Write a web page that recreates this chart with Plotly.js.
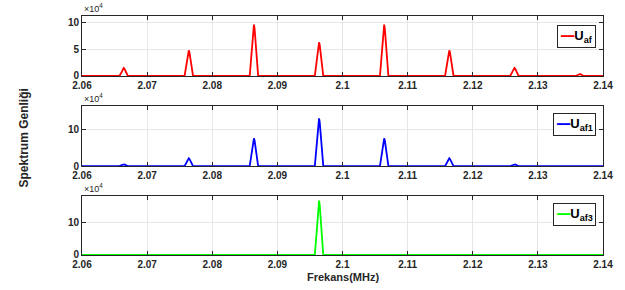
<!DOCTYPE html>
<html><head><meta charset="utf-8">
<script src="https://cdn.plot.ly/plotly-3.0.1.min.js"></script>
<style>html,body{margin:0;padding:0;background:#fff}#chart{width:625px;height:290px}</style>
</head><body><div id="chart"></div>
<script>
// Peak centres (MHz)
const peakCenters = [2.0664, 2.0764, 2.0864, 2.0964, 2.1064, 2.1164, 2.1264, 2.1364];
// Peak heights for each signal
const uafPeaks  = [15000, 48000, 96000, 63000, 96000, 48000, 15000, 4000];
const uaf1Peaks = [5000, 21000, 75000, 129000, 75000, 21000, 5000, 1000];
const uaf3Peaks = [0, 0, 0, 166000, 0, 0, 0, 0];
// Narrow peak profile (relative frequency offsets and relative amplitudes)
const profileOffsets = [-0.00065, -0.0003, -0.0001, 0, 0.0001, 0.0003, 0.00065];
const profileRatios  = [0, 0.52, 0.92, 1, 0.92, 0.52, 0];
const xTickVals = [2.06, 2.07, 2.08, 2.09, 2.10, 2.11, 2.12, 2.13, 2.14];
const xTickText = ['2.06','2.07','2.08','2.09','2.1','2.11','2.12','2.13','2.14'];
const seriesNames = ['U<sub>af</sub>', 'U<sub>af1</sub>', 'U<sub>af3</sub>'];
const seriesColors = ['#ff0000', '#0000ff', '#00ff00'];

function buildSpectrum(peaks) {
  const xs = [2.06], ys = [0];
  peakCenters.forEach((c, i) => {
    profileOffsets.forEach((o, j) => { xs.push(c + o); ys.push(peaks[i] * profileRatios[j]); });
  });
  xs.push(2.14); ys.push(0);
  return {xs, ys};
}

const allPeaks = [uafPeaks, uaf1Peaks, uaf3Peaks];
const traces = allPeaks.map((p, k) => {
  const s = buildSpectrum(p);
  return {
    x: s.xs, y: s.ys, type: 'scatter', mode: 'lines',
    name: seriesNames[k],
    line: {color: seriesColors[k], width: 1.8},
    xaxis: k === 0 ? 'x' : 'x' + (k + 1),
    yaxis: k === 0 ? 'y' : 'y' + (k + 1)
  };
});

const axColor = '#262626';
const fam = 'Arial, Liberation Sans, sans-serif';
const tickFont = {family: fam, size: 10, color: axColor, weight: 'bold'};
function xAx(anchor) {
  return {
    anchor: anchor, range: [2.06, 2.14], tickvals: xTickVals, ticktext: xTickText,
    showline: true, linecolor: axColor, linewidth: 1, mirror: 'ticks',
    ticks: 'inside', ticklen: 4, tickcolor: axColor,
    showgrid: true, gridcolor: '#e6e6e6', zeroline: false, tickfont: tickFont
  };
}
function yAx(anchor, domain, range, vals, txt) {
  return {
    anchor: anchor, domain: domain, range: range, tickvals: vals, ticktext: txt,
    showline: true, linecolor: axColor, linewidth: 1, mirror: 'ticks',
    ticks: 'inside', ticklen: 4, tickcolor: axColor,
    showgrid: true, gridcolor: '#e6e6e6', zeroline: false, tickfont: tickFont
  };
}
const d1 = [0.749, 1], d2 = [0.372, 0.623], d3 = [0, 0.247];
const ann = [d1, d2, d3].map(d => ({
  xref: 'paper', yref: 'paper', x: 0, y: d[1], xanchor: 'left', yanchor: 'bottom',
  text: '×10<sup>4</sup>', showarrow: false,
  font: {family: fam, size: 9, color: axColor}
}));
// legend boxes
const legendTops = [0.9636, 0.594, 0.2176];
legendTops.forEach((yTop, k) => {
  ann.push({
    xref: 'paper', yref: 'paper', x: 0.9866, y: yTop, xanchor: 'right', yanchor: 'top',
    text: '<span style="color:' + seriesColors[k] + ';font-family:DejaVu Sans;font-size:11px">━━</span>' + seriesNames[k],
    showarrow: false, bgcolor: '#ffffff', bordercolor: axColor, borderwidth: 1, borderpad: 2,
    font: {family: fam, size: 13, color: '#000', weight: 'bold'}
  });
});
ann.push({
  xref: 'paper', yref: 'paper', x: -0.112, y: 0.49, xanchor: 'center', yanchor: 'middle',
  text: 'Spektrum Genliği', textangle: -90, showarrow: false,
  font: {family: fam, size: 12, color: axColor, weight: 'bold'}
});
ann.push({
  xref: 'paper', yref: 'paper', x: 0.5, y: -0.092, xanchor: 'center', yanchor: 'middle',
  text: 'Frekans(MHz)', showarrow: false,
  font: {family: fam, size: 11, color: axColor, weight: 'bold'}
});

const layout = {
  width: 625, height: 290,
  margin: {l: 82, r: 22, t: 16, b: 35},
  paper_bgcolor: '#fff', plot_bgcolor: '#fff',
  showlegend: false,
  xaxis: xAx('y'), xaxis2: xAx('y2'), xaxis3: xAx('y3'),
  yaxis: yAx('x', d1, [0, 112000], [0, 50000, 100000], ['0', '5', '10']),
  yaxis2: yAx('x2', d2, [0, 162000], [0, 100000], ['0', '10']),
  yaxis3: yAx('x3', d3, [0, 180000], [0, 100000], ['0', '10']),
  annotations: ann
};
Plotly.newPlot('chart', traces, layout, {displayModeBar: false, staticPlot: true});
</script></body></html>
